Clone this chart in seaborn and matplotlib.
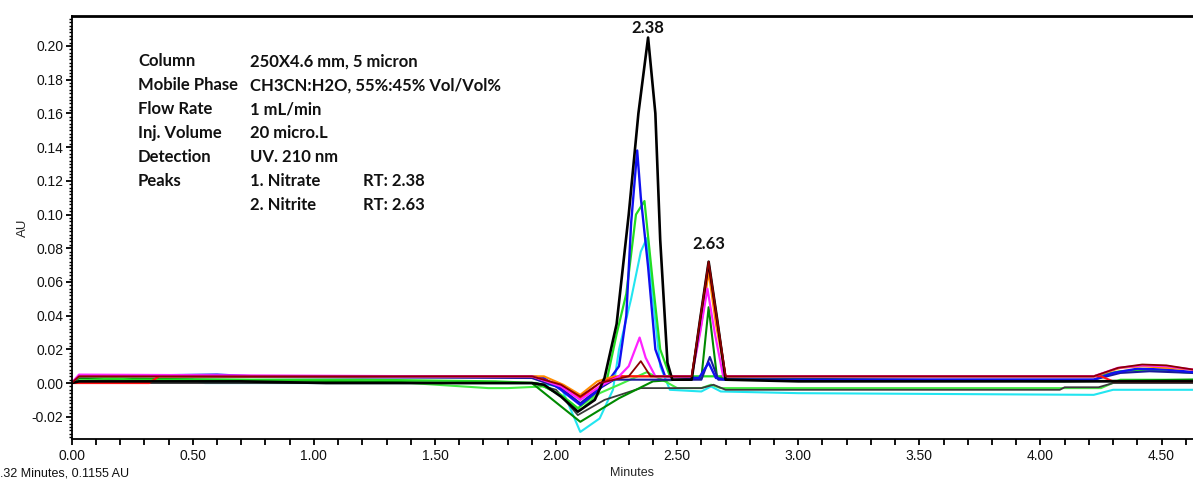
import numpy as np
import pandas as pd
import matplotlib
matplotlib.use("Agg")
import matplotlib.pyplot as plt
from matplotlib.ticker import MultipleLocator, FormatStrFormatter
import seaborn as sns

# Retention times of the two analytes (minutes)
rt_nitrate = 2.38
rt_nitrite = 2.63

# Overlaid chromatogram traces: (time in minutes, absorbance in AU)
trace_cyan = [(0.00, 0.000), (0.03, 0.003), (0.50, 0.002), (0.55, 0.000), (1.90, 0.000),
              (2.02, -0.002), (2.10, -0.029), (2.18, -0.021), (2.235, -0.004), (2.26, 0.020),
              (2.31, 0.050), (2.35, 0.078), (2.375, 0.086), (2.40, 0.050), (2.43, 0.010),
              (2.47, -0.004), (2.60, -0.005), (2.64, -0.002), (2.68, -0.005), (3.00, -0.006),
              (4.22, -0.007), (4.30, -0.004), (4.63, -0.004)]
trace_lime2 = [(0.00, 0.000), (0.03, 0.002), (0.27, 0.0025), (0.90, 0.0005), (1.40, 0.000),
               (1.72, -0.003), (1.80, -0.003), (1.95, -0.002), (2.02, -0.007), (2.10, -0.016),
               (2.18, -0.006), (2.26, -0.001), (2.375, 0.0065), (2.45, 0.001), (2.50, -0.003),
               (2.60, -0.003), (2.64, -0.001), (2.68, -0.003), (4.25, -0.003), (4.33, 0.002),
               (4.63, 0.002)]
trace_gray = [(0.00, 0.000), (0.03, 0.000), (1.90, 0.000), (2.00, -0.004), (2.09, -0.019),
              (2.20, -0.010), (2.35, -0.003), (2.60, -0.003), (2.65, -0.001), (2.70, -0.004),
              (4.08, -0.004), (4.10, -0.0025), (4.24, -0.0025), (4.30, 0.000), (4.63, 0.000)]
trace_darkgreen = [(0.00, 0.000), (0.03, 0.003), (1.20, 0.001), (1.60, 0.000), (1.90, 0.000),
                   (2.10, -0.023), (2.26, -0.009), (2.40, 0.001), (2.60, 0.003), (2.63, 0.045),
                   (2.665, 0.003), (4.10, 0.001), (4.63, 0.002)]
trace_lime = [(0.00, 0.000), (0.03, 0.004), (0.25, 0.002), (1.20, 0.002), (1.75, 0.001),
              (1.92, 0.000), (2.02, -0.007), (2.09, -0.015), (2.15, -0.008), (2.21, 0.002),
              (2.25, 0.029), (2.29, 0.053), (2.33, 0.100), (2.365, 0.108), (2.40, 0.059),
              (2.43, 0.020), (2.47, 0.004), (4.22, 0.004), (4.33, 0.007), (4.45, 0.008),
              (4.63, 0.006)]
trace_navy = [(0.00, 0.000), (0.03, 0.004), (1.90, 0.003), (2.02, -0.003), (2.10, -0.012),
              (2.17, -0.004), (2.24, 0.002), (2.60, 0.002), (2.635, 0.0155), (2.67, 0.002),
              (4.22, 0.002), (4.33, 0.006), (4.45, 0.007), (4.63, 0.006)]
trace_blue = [(0.00, 0.000), (0.03, 0.004), (0.60, 0.005), (0.75, 0.004), (1.90, 0.004),
              (1.95, 0.003), (2.02, -0.004), (2.10, -0.013), (2.16, -0.006), (2.22, 0.002),
              (2.26, 0.010), (2.29, 0.040), (2.31, 0.095), (2.335, 0.138), (2.35, 0.110),
              (2.38, 0.069), (2.41, 0.020), (2.45, 0.004), (2.59, 0.003), (2.63, 0.012),
              (2.66, 0.003), (2.70, 0.002), (4.22, 0.002), (4.30, 0.006), (4.40, 0.0085),
              (4.52, 0.008), (4.63, 0.0065)]
trace_orange = [(0.00, 0.000), (0.03, 0.004), (1.05, 0.004), (1.95, 0.004), (2.03, -0.001),
                (2.10, -0.007), (2.17, 0.001), (2.24, 0.004), (2.56, 0.004), (2.60, 0.035),
                (2.63, 0.066), (2.66, 0.035), (2.70, 0.004), (4.22, 0.004), (4.33, 0.009),
                (4.42, 0.010), (4.63, 0.008)]
trace_red = [(0.00, 0.000), (0.32, 0.000), (0.36, 0.004), (1.90, 0.004), (2.02, -0.001),
             (2.10, -0.009), (2.18, 0.000), (2.26, 0.004), (2.56, 0.004), (2.595, 0.036),
             (2.63, 0.070), (2.665, 0.036), (2.70, 0.004), (4.25, 0.004), (4.30, 0.001),
             (4.63, 0.001)]
trace_magenta = [(0.00, 0.000), (0.03, 0.005), (1.50, 0.004), (1.90, 0.004), (2.02, -0.002),
                 (2.10, -0.010), (2.18, -0.002), (2.26, 0.004), (2.30, 0.010), (2.345, 0.027),
                 (2.37, 0.015), (2.41, 0.004), (2.56, 0.004), (2.595, 0.030), (2.625, 0.056),
                 (2.655, 0.030), (2.69, 0.004), (4.22, 0.004), (4.32, 0.009), (4.42, 0.0105),
                 (4.52, 0.010), (4.63, 0.008)]
trace_black = [(0.00, 0.000), (0.03, 0.001), (0.70, 0.001), (1.05, 0.000), (1.90, 0.000),
               (1.95, -0.001), (2.02, -0.008), (2.09, -0.017), (2.16, -0.010), (2.20, 0.003),
               (2.25, 0.035), (2.30, 0.100), (2.34, 0.160), (rt_nitrate, 0.205), (2.41, 0.160),
               (2.43, 0.085), (2.46, 0.012), (2.48, 0.002), (2.56, 0.002), (2.595, 0.038),
               (rt_nitrite, 0.072), (2.665, 0.038), (2.70, 0.002), (3.00, 0.001), (4.63, 0.001)]
trace_maroon = [(0.00, 0.000), (0.03, 0.004), (1.90, 0.004), (2.02, -0.001), (2.10, -0.008),
                (2.18, 0.000), (2.30, 0.004), (2.35, 0.013), (2.39, 0.004), (2.56, 0.004),
                (2.595, 0.038), (rt_nitrite, 0.072), (2.665, 0.038), (2.70, 0.004), (4.22, 0.004),
                (4.32, 0.009), (4.42, 0.011), (4.52, 0.0105), (4.63, 0.008)]

traces = [
    ("cyan", trace_cyan, "#22E5F0", 1.5),
    ("lime2", trace_lime2, "#44EE44", 1.5),
    ("gray", trace_gray, "#3A3A3A", 1.3),
    ("darkgreen", trace_darkgreen, "#008A00", 1.5),
    ("lime", trace_lime, "#22DD22", 1.6),
    ("navy", trace_navy, "#1A1A9A", 1.5),
    ("blue", trace_blue, "#1010F0", 1.7),
    ("orange", trace_orange, "#FF8C00", 1.5),
    ("red", trace_red, "#FF1010", 1.5),
    ("magenta", trace_magenta, "#FF22FF", 1.6),
    ("black", trace_black, "#000000", 1.9),
    ("maroon", trace_maroon, "#8B0000", 1.3),
]

# Method conditions listed in the upper left of the plot
cond_names = ["Column", "Mobile Phase", "Flow Rate", "Inj. Volume", "Detection", "Peaks", ""]
cond_values = ["250X4.6 mm, 5 micron", "CH3CN:H2O, 55%:45% Vol/Vol%", "1 mL/min",
               "20 micro.L", "UV. 210 nm", "1. Nitrate", "2. Nitrite"]
cond_rt = ["", "", "", "", "", "RT: 2.38", "RT: 2.63"]

x_ticks = [0.00, 0.50, 1.00, 1.50, 2.00, 2.50, 3.00, 3.50, 4.00, 4.50]

sns.set_style("white")
plt.rcParams["font.family"] = ["Liberation Sans", "DejaVu Sans"]
plt.rcParams["axes.unicode_minus"] = False

fig = plt.figure(figsize=(11.93, 4.82), dpi=100)
ax = fig.add_axes([0.0601, 0.0892, 0.9399, 0.8766])

for name, pts, color, lw in traces:
    df = pd.DataFrame(pts, columns=["Minutes", "AU"])
    sns.lineplot(data=df, x="Minutes", y="AU", color=color, linewidth=lw,
                 estimator=None, sort=False, ax=ax, legend=False)

ax.set_xlim(0, 4.63)
ax.set_ylim(-0.0332, 0.2175)

ax.set_xticks(x_ticks)
ax.xaxis.set_major_formatter(FormatStrFormatter("%.2f"))
ax.xaxis.set_minor_locator(MultipleLocator(0.1))
ax.yaxis.set_major_locator(MultipleLocator(0.02))
ax.yaxis.set_minor_locator(MultipleLocator(0.002))
ax.yaxis.set_major_formatter(FormatStrFormatter("%.2f"))

ax.tick_params(axis="x", which="both", bottom=True, top=False, direction="out",
               length=4, width=1.3, labelsize=10, pad=3, color="black", labelcolor="#111111")
ax.tick_params(axis="y", which="major", left=True, right=False, direction="out",
               length=4, width=1.3, labelsize=10, pad=2, color="black", labelcolor="#111111")
ax.tick_params(axis="y", which="minor", left=True, right=False, direction="out",
               length=2.5, width=1.0, color="black")

for side in ["left", "bottom"]:
    ax.spines[side].set_color("black")
    ax.spines[side].set_linewidth(1.3)
ax.spines["top"].set_color("black")
ax.spines["top"].set_linewidth(2.0)
ax.spines["right"].set_visible(False)

ax.set_xlabel("Minutes", fontsize=9, labelpad=3)
ax.set_ylabel("AU", fontsize=9.5, labelpad=2)

# Method conditions block
label_font = dict(family=["Lato", "DejaVu Sans"], fontweight="bold", fontsize=12,
                  color="#111111", va="center", ha="left")
y0, dy = 0.191, 0.01425
for i, (n, v, r) in enumerate(zip(cond_names, cond_values, cond_rt)):
    yy = y0 - i * dy
    ax.text(0.274, yy, n, **label_font)
    ax.text(0.736, yy, v, **label_font)
    if r:
        ax.text(1.202, yy, r, **label_font)

# Retention-time labels over the two peaks
peak_font = dict(family=["Lato", "DejaVu Sans"], fontweight="bold", fontsize=12,
                 color="#111111", ha="center", va="center")
ax.text(rt_nitrate, 0.2105, f"{rt_nitrate:.2f}", **peak_font)
ax.text(rt_nitrite, 0.0825, f"{rt_nitrite:.2f}", **peak_font)

# Cursor readout at the lower left
fig.text(-7 / 1193, 1 - 474 / 482, "2.32 Minutes, 0.1155 AU", fontsize=9,
         ha="left", va="center", color="#111111")

fig.savefig("out.png", dpi=100, facecolor="white")
